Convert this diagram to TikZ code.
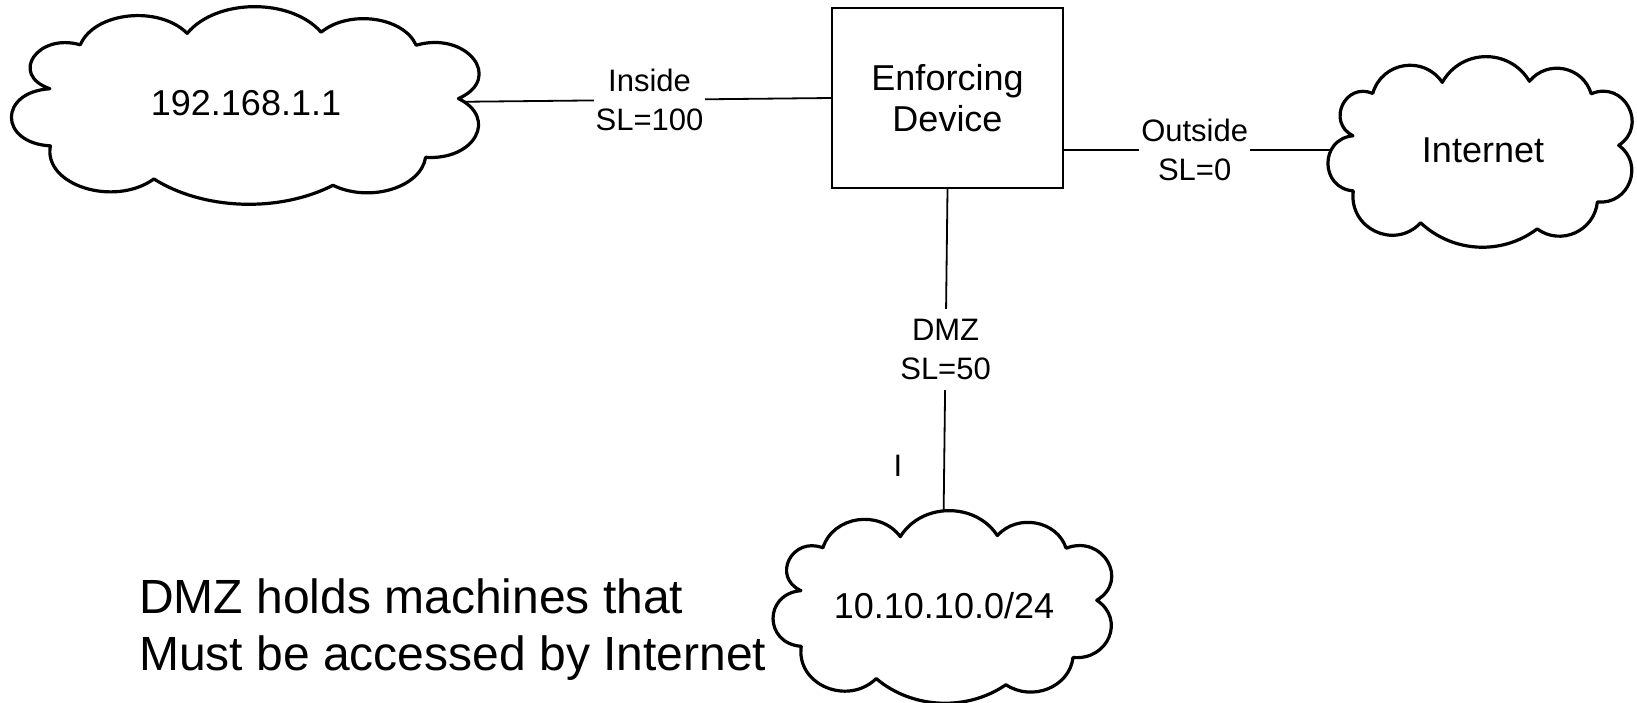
\documentclass[tikz,border=0pt]{standalone}
\usepackage{fontspec}
\setmainfont{Liberation Sans}
\usetikzlibrary{calc}

\def\cloudasp{1.63}
% puff between cusps P and Q, bulging outward with tangent angle #6
\newcommand\defpuff[6]{%
  \pgfmathsetmacro\cldk{1/(3*cos(#6/2)^2)}%
  \pgfmathsetmacro\clddX{\cloudasp*((#4)-(#2))}%
  \pgfmathsetmacro\clddY{(#5)-(#3)}%
  \pgfmathsetmacro\cldc{cos(#6)}%
  \pgfmathsetmacro\clds{sin(#6)}%
  \pgfmathsetmacro\cldu{(#2)+\cldk*((\clddX)*(\cldc)+(\clddY)*(\clds))/\cloudasp}%
  \pgfmathsetmacro\cldv{(#3)+\cldk*(-(\clddX)*(\clds)+(\clddY)*(\cldc))}%
  \expandafter\xdef\csname p#1x\endcsname{\cldu}%
  \expandafter\xdef\csname p#1y\endcsname{\cldv}%
  \pgfmathsetmacro\cldu{(#4)+\cldk*(-(\clddX)*(\cldc)+(\clddY)*(\clds))/\cloudasp}%
  \pgfmathsetmacro\cldv{(#5)+\cldk*(-(\clddX)*(\clds)-(\clddY)*(\cldc))}%
  \expandafter\xdef\csname q#1x\endcsname{\cldu}%
  \expandafter\xdef\csname q#1y\endcsname{\cldv}%
}
\defpuff{A}{14.8}{19.7}{37.3}{13.9}{65}
\defpuff{B}{37.3}{13.9}{65.5}{13.3}{60}
\defpuff{C}{65.5}{13.3}{85.5}{19.9}{62}
\defpuff{D}{85.5}{19.9}{94.4}{47}{85}
\defpuff{E}{94.4}{47}{87.5}{76.8}{75}
\defpuff{F}{87.5}{76.8}{68}{91}{60}
\defpuff{G}{68}{91}{30.3}{87.8}{40}
\defpuff{H}{30.3}{87.8}{8.5}{71}{72}
\defpuff{I}{8.5}{71}{8.4}{42}{85}
\defpuff{J}{8.4}{42}{14.8}{19.7}{88}

% cloud outline in a 100 x 100 frame, y pointing down
\newcommand\drawcloud{%
  \draw[cloudline] (14.8,19.7)
    .. controls (\pAx,\pAy) and (\qAx,\qAy) .. (37.3,13.9)
    .. controls (\pBx,\pBy) and (\qBx,\qBy) .. (65.5,13.3)
    .. controls (\pCx,\pCy) and (\qCx,\qCy) .. (85.5,19.9)
    .. controls (\pDx,\pDy) and (\qDx,\qDy) .. (94.4,47)
    .. controls (\pEx,\pEy) and (\qEx,\qEy) .. (87.5,76.8)
    .. controls (\pFx,\pFy) and (\qFx,\qFy) .. (68,91)
    .. controls (\pGx,\pGy) and (\qGx,\qGy) .. (30.3,87.8)
    .. controls (\pHx,\pHy) and (\qHx,\qHy) .. (8.5,71)
    .. controls (\pIx,\pIy) and (\qIx,\qIy) .. (8.4,42)
    .. controls (\pJx,\pJy) and (\qJx,\qJy) .. (14.8,19.7) -- cycle;}

\tikzset{
  cloudline/.style={draw=black, fill=white, line width=3.2pt, line join=round},
  devbox/.style={draw=black, fill=white, line width=2pt, minimum width=231pt,
    minimum height=180pt, inner sep=0pt, align=center,
    font=\fontsize{36}{41}\selectfont},
  conn/.style={draw=black, line width=1.8pt},
  lbl/.style={fill=white, inner xsep=2pt, inner ysep=10pt, align=center,
    font=\fontsize{31}{38.5}\selectfont},
  bigtxt/.style={inner sep=0pt, font=\fontsize{36}{41}\selectfont},
  smtxt/.style={inner sep=0pt, font=\fontsize{31}{38.5}\selectfont},
  notetxt/.style={inner sep=0pt, align=left, font=\fontsize{48}{57}\selectfont}
}

\begin{document}
\begin{tikzpicture}[x=1pt,y=1pt]
  \useasboundingbox[fill=white] (0,0) rectangle (1637,-702);

  % enforcing device
  \node[devbox] (dev) at (947.5,-98) {Enforcing\\Device};

  % attachment points just inside the clouds
  \coordinate (Latt) at (440,-102);
  \coordinate (Iatt) at (1345,-150);
  \coordinate (Datt) at (943.5,-522);

  % connectors with their interface labels
  \draw[conn] (Latt) -- node[lbl, pos=0.536] (inl) {Inside\\SL=100} (dev.west);
  \draw[conn] ([yshift=-52pt]dev.east) -- node[lbl, pos=0.465] (outl) {Outside\\SL=0} (Iatt);
  \draw[conn] (dev.south) -- node[lbl, pos=0.482] (dmzl) {DMZ\\SL=50} (Datt);

  % clouds
  \begin{scope}[shift={(10,-6)}, xscale=4.75, yscale=-1.97]
    \drawcloud
  \end{scope}
  \begin{scope}[shift={(1327,-56)}, xscale=3.09, yscale=-1.90]
    \drawcloud
  \end{scope}
  \begin{scope}[shift={(772,-510)}, xscale=3.44, yscale=-1.92]
    \drawcloud
  \end{scope}

  % cloud texts
  \node[bigtxt] (lan) at (246,-103) {192.168.1.1};
  \node[bigtxt] (inet) at (1483,-150) {Internet};
  \node[bigtxt] (dmz) at (944,-606) {10.10.10.0/24};

  % stray mark
  \node[smtxt] (mark) at (898,-465.5) {I};

  % note
  \node[notetxt, anchor=north west] (note) at (139,-578.6)
    {DMZ holds machines that\\Must be accessed by Internet};
\end{tikzpicture}
\end{document}
